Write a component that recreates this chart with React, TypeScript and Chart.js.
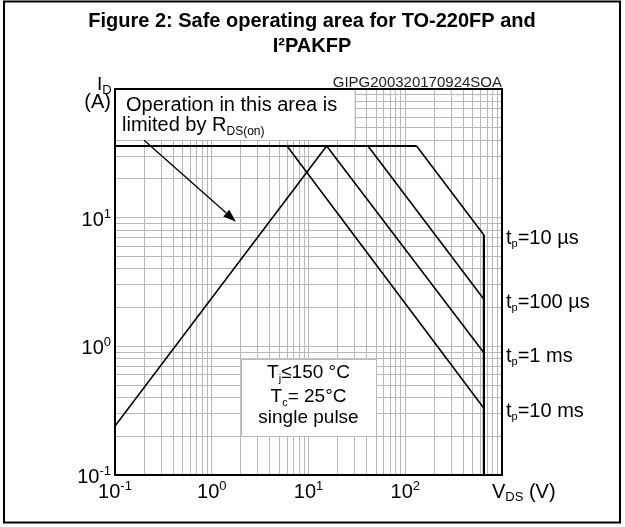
import React, { useEffect, useRef } from 'react';
import { Chart, registerables } from 'chart.js';

Chart.register(...registerables);

const FONT = '"Liberation Sans", Arial, Helvetica, sans-serif';
const GRID_COLOR = '#b8b8b8';

// Axis ranges (log decades)
const V_MIN = 0.1;
const V_MAX = 1000;
const I_MIN = 0.1;
const I_MAX = 100;
const X_TICK_EXP = [-1, 0, 1, 2];
const Y_TICK_EXP = [-1, 0, 1];
const GRID_MULTS = [1, 2, 3, 4, 5, 6, 7, 8, 9];

// Curves (V_DS in volts, I_D in amps)
const LIMIT_V = [0.1, 131];
const LIMIT_I = [36, 36];
const RDS_V = [0.1, 15.4];
const RDS_I = [0.24, 36];
const P10US_V = [131, 650];
const P10US_I = [36, 7.33];
const P100US_V = [41.2, 650];
const P100US_I = [36, 2.32];
const P1MS_V = [15.4, 650];
const P1MS_I = [36, 0.89];
const P10MS_V = [6.0, 650];
const P10MS_I = [36, 0.33];
const VMAX_V = [650, 650];
const VMAX_I = [7.33, 0.1];

// Labels at the end of each pulse curve
const PULSE_LABELS = ['10 µs', '100 µs', '1 ms', '10 ms'];
const PULSE_LABEL_I = [7.33, 2.32, 0.89, 0.33];

// Annotation boxes (data coordinates)
const RDS_BOX_V = [0.1, 30];
const RDS_BOX_I = [40, 100];
const COND_BOX_V = [2, 50];
const COND_BOX_I = [0.2, 0.8];
const ARROW_V = [0.2, 1.78];
const ARROW_I = [40, 9.3];

const TITLE_LINES = ['Figure 2: Safe operating area for TO-220FP and', 'I²PAKFP'];
const CODE_TEXT = 'GIPG200320170924SOA';

type Seg = { t: string; size: number; dy?: number; bold?: boolean };

function drawRich(ctx: CanvasRenderingContext2D, segs: Seg[], x: number, y: number, align: 'left' | 'center' | 'right') {
  let w = 0;
  const widths: number[] = [];
  for (const s of segs) {
    ctx.font = `${s.bold ? 'bold ' : ''}${s.size}px ${FONT}`;
    const m = ctx.measureText(s.t).width;
    widths.push(m);
    w += m;
  }
  let cx = align === 'left' ? x : align === 'center' ? x - w / 2 : x - w;
  ctx.textAlign = 'left';
  ctx.textBaseline = 'alphabetic';
  segs.forEach((s, i) => {
    ctx.font = `${s.bold ? 'bold ' : ''}${s.size}px ${FONT}`;
    ctx.fillText(s.t, cx, y + (s.dy || 0));
    cx += widths[i];
  });
}

function gridTicks(exps: number[]) {
  const out: number[] = [];
  for (const e of exps) for (const m of GRID_MULTS) out.push(m * Math.pow(10, e));
  out.push(Math.pow(10, exps[exps.length - 1] + 1));
  return out;
}

const pts = (vs: number[], is: number[]) => vs.map((v, i) => ({ x: v, y: is[i] }));

const overlay = {
  id: 'overlay',
  beforeDatasetsDraw(chart: any) {
    const ctx: CanvasRenderingContext2D = chart.ctx;
    const xs = chart.scales.x;
    const ys = chart.scales.y;
    const boxes = [
      [RDS_BOX_V, RDS_BOX_I],
      [COND_BOX_V, COND_BOX_I],
    ];
    ctx.save();
    for (const [bv, bi] of boxes) {
      const x1 = xs.getPixelForValue(bv[0]);
      const x2 = xs.getPixelForValue(bv[1]);
      const y1 = ys.getPixelForValue(bi[1]);
      const y2 = ys.getPixelForValue(bi[0]);
      ctx.fillStyle = '#ffffff';
      ctx.fillRect(x1, y1, x2 - x1, y2 - y1);
      ctx.strokeStyle = GRID_COLOR;
      ctx.lineWidth = 1;
      ctx.strokeRect(Math.round(x1) + 0.5, Math.round(y1) + 0.5, Math.round(x2 - x1), Math.round(y2 - y1));
    }
    ctx.restore();
  },
  afterDatasetsDraw(chart: any) {
    const ctx: CanvasRenderingContext2D = chart.ctx;
    const xs = chart.scales.x;
    const ys = chart.scales.y;
    const a = chart.chartArea;
    ctx.save();
    // plot border
    ctx.strokeStyle = '#000';
    ctx.lineWidth = 2;
    ctx.strokeRect(a.left, a.top, a.right - a.left, a.bottom - a.top);

    // outer frame
    ctx.lineWidth = 2;
    ctx.strokeRect(4, 1.5, 616, 521);

    ctx.fillStyle = '#000';
    // title
    drawRich(ctx, [{ t: TITLE_LINES[0], size: 20, bold: true }], 312, 27, 'center');
    drawRich(ctx, [{ t: TITLE_LINES[1], size: 20, bold: true }], 312, 52, 'center');

    // code text
    ctx.fillStyle = '#222';
    drawRich(ctx, [{ t: CODE_TEXT, size: 15 }], a.right, a.top - 2, 'right');
    ctx.fillStyle = '#000';

    // arrow
    const ax1 = xs.getPixelForValue(ARROW_V[0]);
    const ay1 = ys.getPixelForValue(ARROW_I[0]);
    const ax2 = xs.getPixelForValue(ARROW_V[1]);
    const ay2 = ys.getPixelForValue(ARROW_I[1]);
    const ang = Math.atan2(ay2 - ay1, ax2 - ax1);
    const hl = 13;
    const hw = 4.5;
    ctx.lineWidth = 1.3;
    ctx.beginPath();
    ctx.moveTo(ax1, ay1);
    ctx.lineTo(ax2 - hl * Math.cos(ang), ay2 - hl * Math.sin(ang));
    ctx.stroke();
    ctx.beginPath();
    ctx.moveTo(ax2, ay2);
    ctx.lineTo(ax2 - hl * Math.cos(ang) + hw * Math.sin(ang), ay2 - hl * Math.sin(ang) - hw * Math.cos(ang));
    ctx.lineTo(ax2 - hl * Math.cos(ang) - hw * Math.sin(ang), ay2 - hl * Math.sin(ang) + hw * Math.cos(ang));
    ctx.closePath();
    ctx.fill();

    // RDS box text
    drawRich(ctx, [{ t: 'Operation in this area is', size: 20 }], a.left + 11, 111, 'left');
    drawRich(ctx, [
      { t: 'limited by R', size: 20 },
      { t: 'DS(on)', size: 12, dy: 4 },
    ], a.left + 7, 131, 'left');

    // conditions box text
    const cx = (xs.getPixelForValue(COND_BOX_V[0]) + xs.getPixelForValue(COND_BOX_V[1])) / 2;
    drawRich(ctx, [
      { t: 'T', size: 19 },
      { t: 'j', size: 11, dy: 4 },
      { t: '≤150 °C', size: 19 },
    ], cx, 378, 'center');
    drawRich(ctx, [
      { t: 'T', size: 19 },
      { t: 'c', size: 11, dy: 4 },
      { t: '= 25°C', size: 19 },
    ], cx, 402, 'center');
    drawRich(ctx, [{ t: 'single pulse', size: 19 }], cx, 423, 'center');

    // pulse labels
    PULSE_LABELS.forEach((lab, i) => {
      const y = ys.getPixelForValue(PULSE_LABEL_I[i]);
      drawRich(ctx, [
        { t: 't', size: 20 },
        { t: 'p', size: 11, dy: 3 },
        { t: '=' + lab, size: 20 },
      ], a.right + 4, y + 9, 'left');
    });

    // y tick labels
    Y_TICK_EXP.forEach((e) => {
      const y = ys.getPixelForValue(Math.pow(10, e));
      drawRich(ctx, [
        { t: '10', size: 20 },
        { t: String(e), size: 13, dy: -8 },
      ], a.left - 4, y + 8, 'right');
    });
    // x tick labels
    X_TICK_EXP.forEach((e) => {
      const x = xs.getPixelForValue(Math.pow(10, e));
      drawRich(ctx, [
        { t: '10', size: 20 },
        { t: String(e), size: 13, dy: -8 },
      ], x, a.bottom + 23, 'center');
    });

    // axis titles
    drawRich(ctx, [
      { t: 'V', size: 20 },
      { t: 'DS', size: 13, dy: 3 },
      { t: ' (V)', size: 20 },
    ], a.right - 10, a.bottom + 23, 'left');
    drawRich(ctx, [
      { t: 'I', size: 19 },
      { t: 'D', size: 13, dy: 4 },
    ], a.left - 18, 90, 'left');
    drawRich(ctx, [{ t: '(A)', size: 20 }], a.left - 4, 108, 'right');
    ctx.restore();
  },
};

export default function App() {
  const ref = useRef<HTMLCanvasElement | null>(null);
  useEffect(() => {
    if (!ref.current) return;
    const lineDs = (vs: number[], is: number[], w: number) => ({
      data: pts(vs, is),
      borderColor: '#000',
      backgroundColor: '#000',
      borderWidth: w,
      pointRadius: 0,
      showLine: true,
      tension: 0,
      fill: false,
    });
    const gx = gridTicks(X_TICK_EXP.concat([]));
    const gy = gridTicks(Y_TICK_EXP.concat([1]));
    const chart = new Chart(ref.current, {
      type: 'scatter',
      data: {
        datasets: [
          lineDs(LIMIT_V, LIMIT_I, 2),
          lineDs(RDS_V, RDS_I, 1.6),
          lineDs(P10US_V, P10US_I, 1.6),
          lineDs(P100US_V, P100US_I, 1.6),
          lineDs(P1MS_V, P1MS_I, 1.6),
          lineDs(P10MS_V, P10MS_I, 1.6),
          lineDs(VMAX_V, VMAX_I, 2.2),
        ],
      },
      options: {
        animation: false,
        responsive: false,
        maintainAspectRatio: false,
        layout: { padding: { left: 115, top: 89, right: 123, bottom: 52 } },
        plugins: { legend: { display: false }, tooltip: { enabled: false }, title: { display: false } },
        scales: {
          x: {
            type: 'logarithmic',
            min: V_MIN,
            max: V_MAX,
            afterBuildTicks: (s: any) => {
              s.ticks = gx.filter((v) => v <= V_MAX + 1e-9).map((v) => ({ value: v }));
            },
            ticks: { display: false },
            grid: { color: GRID_COLOR, lineWidth: 1, drawTicks: false },
            border: { display: false },
          },
          y: {
            type: 'logarithmic',
            min: I_MIN,
            max: I_MAX,
            afterBuildTicks: (s: any) => {
              s.ticks = gy.filter((v) => v <= I_MAX + 1e-9).map((v) => ({ value: v }));
            },
            ticks: { display: false },
            grid: { color: GRID_COLOR, lineWidth: 1, drawTicks: false },
            border: { display: false },
          },
        },
      },
      plugins: [overlay],
    } as any);
    return () => chart.destroy();
  }, []);
  return (
    <div style={{ position: 'absolute', left: 0, top: 0, width: 625, height: 527, background: '#fff' }}>
      <canvas ref={ref} width={625} height={527} style={{ display: 'block', width: 625, height: 527 }} />
    </div>
  );
}
